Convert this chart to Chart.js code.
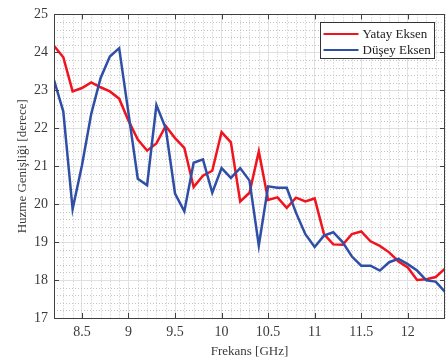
<!DOCTYPE html>
<html>
<head>
<meta charset="utf-8">
<script src="https://cdn.jsdelivr.net/npm/chart.js@4.4.0/dist/chart.umd.min.js"></script>
<style>
  html, body { margin: 0; padding: 0; background: #fff; }
  #beam { display: block; }
</style>
</head>
<body>
<canvas id="beam" width="446" height="362"></canvas>
<script>
// Frequencies (GHz)
const freqs = [8.2, 8.3, 8.4, 8.5, 8.6, 8.7, 8.8, 8.9, 9.0, 9.1, 9.2, 9.3, 9.4, 9.5, 9.6, 9.7, 9.8, 9.9,
  10.0, 10.1, 10.2, 10.3, 10.4, 10.5, 10.6, 10.7, 10.8, 10.9, 11.0, 11.1, 11.2, 11.3, 11.4, 11.5,
  11.6, 11.7, 11.8, 11.9, 12.0, 12.1, 12.2, 12.3, 12.4];

// Beam width (degrees) - horizontal axis
const yatay = [24.17, 23.87, 22.97, 23.06, 23.21, 23.08, 22.97, 22.78, 22.2, 21.7, 21.41, 21.6, 22.06,
  21.74, 21.48, 20.45, 20.75, 20.88, 21.9, 21.63, 20.07, 20.3, 21.39, 20.11, 20.18, 19.9, 20.17,
  20.07, 20.15, 19.21, 18.94, 18.93, 19.21, 19.28, 19.02, 18.9, 18.73, 18.49, 18.33, 18.0, 18.02,
  18.08, 18.3];

// Beam width (degrees) - vertical axis
const dusey = [23.27, 22.44, 19.87, 21.02, 22.38, 23.32, 23.89, 24.11, 22.4, 20.67, 20.5, 22.61, 22.0,
  20.28, 19.81, 21.09, 21.18, 20.3, 20.95, 20.69, 20.95, 20.62, 18.91, 20.47, 20.43, 20.43, 19.77,
  19.21, 18.87, 19.17, 19.26, 19.0, 18.62, 18.38, 18.38, 18.25, 18.47, 18.56, 18.42, 18.25, 17.99,
  17.96, 17.69];

const xTickVals = [8.5, 9, 9.5, 10, 10.5, 11, 11.5, 12];
const yTickVals = [17, 18, 19, 20, 21, 22, 23, 24, 25];

const serif = "'Liberation Serif', 'Times New Roman', serif";
const textColor = "#3a3a3a";
const axisColor = "#404040";

// minor dotted grid, box with inward ticks, legend in upper right
const axesPlugin = {
  id: "matlabAxes",
  beforeDatasetsDraw(chart) {
    const { ctx, chartArea: a, scales } = chart;
    ctx.save();
    ctx.strokeStyle = "#c4c4c4";
    ctx.lineWidth = 1;
    ctx.setLineDash([1, 2]);
    ctx.beginPath();
    for (let k = 0; k <= 42; k++) {
      const v = 8.2 + k * 0.1;
      if (Math.abs(v * 2 - Math.round(v * 2)) < 1e-6) continue;
      const px = Math.round(scales.x.getPixelForValue(v)) + 0.5;
      ctx.moveTo(px, a.top);
      ctx.lineTo(px, a.bottom);
    }
    for (let k = 0; k <= 40; k++) {
      const v = 17 + k * 0.2;
      if (Math.abs(v - Math.round(v)) < 1e-6) continue;
      const py = Math.round(scales.y.getPixelForValue(v)) + 0.5;
      ctx.moveTo(a.left, py);
      ctx.lineTo(a.right, py);
    }
    ctx.stroke();
    ctx.restore();
  },
  afterDraw(chart) {
    const { ctx, chartArea: a, scales } = chart;
    ctx.save();
    ctx.strokeStyle = axisColor;
    ctx.lineWidth = 1;
    ctx.beginPath();
    xTickVals.forEach((v) => {
      const px = Math.round(scales.x.getPixelForValue(v)) + 0.5;
      ctx.moveTo(px, a.top); ctx.lineTo(px, a.top + 5);
      ctx.moveTo(px, a.bottom); ctx.lineTo(px, a.bottom - 5);
    });
    yTickVals.forEach((v) => {
      const py = Math.round(scales.y.getPixelForValue(v)) + 0.5;
      ctx.moveTo(a.left, py); ctx.lineTo(a.left + 5, py);
      ctx.moveTo(a.right, py); ctx.lineTo(a.right - 5, py);
    });
    ctx.stroke();
    ctx.strokeRect(Math.round(a.left) + 0.5, Math.round(a.top) + 0.5,
      Math.round(a.right - a.left) - 1, Math.round(a.bottom - a.top));

    // legend
    const bx = Math.round(a.right) - 124.5, by = Math.round(a.top) + 8.5;
    const bw = 114, bh = 36;
    ctx.fillStyle = "#fff";
    ctx.fillRect(bx, by, bw, bh);
    ctx.strokeStyle = "#333";
    ctx.strokeRect(bx, by, bw, bh);
    ctx.font = "13px " + serif;
    ctx.textBaseline = "middle";
    chart.data.datasets.forEach((ds, i) => {
      const ly = by + 11.5 + i * 16;
      ctx.strokeStyle = ds.borderColor;
      ctx.lineWidth = 2;
      ctx.beginPath();
      ctx.moveTo(bx + 3, ly);
      ctx.lineTo(bx + 38, ly);
      ctx.stroke();
      ctx.fillStyle = "#222";
      ctx.fillText(ds.label, bx + 42, ly + 0.5);
    });
    ctx.restore();
  }
};

new Chart(document.getElementById("beam").getContext("2d"), {
  type: "line",
  plugins: [axesPlugin],
  data: {
    datasets: [
      {
        label: "Yatay Eksen",
        data: freqs.map((f, i) => ({ x: f, y: yatay[i] })),
        borderColor: "#f0141e",
        borderWidth: 2.5,
        pointRadius: 0,
        tension: 0,
        order: 2
      },
      {
        label: "Düşey Eksen",
        data: freqs.map((f, i) => ({ x: f, y: dusey[i] })),
        borderColor: "#2f4ea6",
        borderWidth: 2.5,
        pointRadius: 0,
        tension: 0,
        order: 1
      }
    ]
  },
  options: {
    responsive: false,
    animation: false,
    devicePixelRatio: 1,
    layout: { padding: { top: 6, right: 1, left: 0, bottom: 0 } },
    plugins: { legend: { display: false }, tooltip: { enabled: false } },
    scales: {
      x: {
        type: "linear",
        min: 8.2,
        max: 12.4,
        afterBuildTicks: (s) => { s.ticks = xTickVals.map((v) => ({ value: v })); },
        afterFit: (s) => { s.height = 44; },
        grid: { color: "#e0e0e0", lineWidth: 1, drawTicks: false },
        border: { display: false },
        ticks: {
          padding: 6,
          autoSkip: false,
          maxRotation: 0,
          color: textColor,
          font: { family: serif, size: 14 },
          callback: (v) => String(v)
        },
        title: {
          display: true,
          text: "Frekans [GHz]",
          color: textColor,
          font: { family: serif, size: 13 },
          padding: { top: 0, bottom: 2.5 }
        }
      },
      y: {
        min: 17,
        max: 25,
        afterBuildTicks: (s) => { s.ticks = yTickVals.map((v) => ({ value: v })); },
        afterFit: (s) => { s.width = 54; },
        grid: { color: "#e0e0e0", lineWidth: 1, drawTicks: false },
        border: { display: false },
        ticks: {
          padding: 6,
          color: textColor,
          font: { family: serif, size: 14 },
          callback: (v) => String(v)
        },
        title: {
          display: true,
          text: "Huzme Genişliği [derece]",
          color: textColor,
          font: { family: serif, size: 13 },
          padding: { top: 15, bottom: 0 }
        }
      }
    }
  }
});
</script>
</body>
</html>
